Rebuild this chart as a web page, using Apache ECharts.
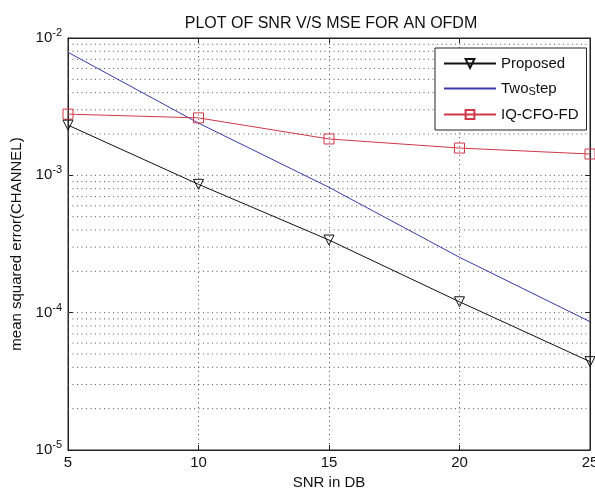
<!DOCTYPE html>
<html>
<head>
<meta charset="utf-8">
<script src="https://cdn.jsdelivr.net/npm/echarts@6/dist/echarts.min.js"></script>
<style>
	html, body { margin: 0; padding: 0; background: #fff; }
	#chart { width: 595px; height: 491px; }
</style>
</head>
<body>
<div id="chart"></div>
<script>
var snr = [5, 10, 15, 20, 25];
var proposed = [2.32e-3, 8.6e-4, 3.38e-4, 1.2e-4, 4.4e-5];
var twoStep = [7.87e-3, 2.4e-3, 8.18e-4, 2.53e-4, 8.6e-5];
var iqCfoFd = [2.79e-3, 2.62e-3, 1.84e-3, 1.58e-3, 1.43e-3];

// dotted grid lines at 1..9 of each decade (like matlab grid on)
var gridVals = [];
for (var e = -5; e < -2; e++) {
	for (var k = 1; k < 10; k++) {
		if (e === -5 && k === 1) continue;
		gridVals.push(k * Math.pow(10, e));
	}
}

function toXY (ys) {
	return ys.map(function (v, i) { return [snr[i], v]; });
}

var font = "Liberation Sans, Arial, sans-serif";
var dots = { type: [1, 3.5], color: "#555", width: 1 };
var cc = echarts.init(document.getElementById("chart"));

var gridSeries = gridVals.map(function (v) {
	return {
		name: "grid",
		type: "line",
		data: [[snr[0], v], [snr[snr.length - 1], v]],
		symbol: "none",
		silent: true,
		lineStyle: dots,
		z: 1
	};
});

var op = {
	backgroundColor: "#fff",
	animation: false,
	title: {
		text: "PLOT OF SNR V/S MSE FOR AN OFDM",
		left: 326,
		textAlign: "center",
		top: 11,
		textStyle: { fontFamily: font, fontSize: 16, fontWeight: "normal", color: "#111" }
	},
	grid: {
		left: 68, right: 5, top: 38, bottom: 41,
		outerBoundsMode: "none",
		containLabel: false,
		show: true, borderColor: "#222", borderWidth: 1
	},
	legend: {
		data: [
			{ name: "Proposed" },
			{ name: "Two_step", itemStyle: { opacity: 0 } },
			{ name: "IQ-CFO-FD" }
		],
		orient: "vertical",
		left: 435,
		top: 48,
		itemWidth: 52,
		itemHeight: 11,
		itemGap: 10,
		padding: [8, 8, 8, 8],
		backgroundColor: "#fff",
		borderColor: "#222",
		borderWidth: 1,
		borderRadius: 0,
		z: 10,
		formatter: function (n) {
			if (n === "Two_step") return "Two{sub|S}tep";
			return n;
		},
		textStyle: {
			fontFamily: font, fontSize: 15, color: "#111",
			rich: {
				sub: { fontFamily: font, fontSize: 11, color: "#111", verticalAlign: "bottom", padding: [6, 0, 0, 0] }
			}
		}
	},
	xAxis: [{
		type: "value",
		min: 5, max: 25, interval: 5,
		name: "SNR in DB",
		nameLocation: "middle",
		nameGap: 21,
		nameTextStyle: { fontFamily: font, fontSize: 15, color: "#111" },
		axisLine: { show: true, lineStyle: { color: "#222" } },
		axisTick: { inside: true, length: 5, lineStyle: { color: "#222" } },
		axisLabel: { fontFamily: font, fontSize: 15, color: "#111", margin: 5 },
		splitLine: { show: true, lineStyle: dots }
	}, {
		type: "value",
		position: "top",
		min: 5, max: 25, interval: 5,
		axisLine: { show: true, lineStyle: { color: "#222" } },
		axisTick: { inside: true, length: 5, lineStyle: { color: "#222" } },
		axisLabel: { show: false },
		splitLine: { show: false }
	}],
	yAxis: [{
		type: "log",
		logBase: 10,
		min: 1e-5, max: 1e-2,
		name: "mean squared error(CHANNEL)",
		nameLocation: "middle",
		nameGap: 37,
		nameTextStyle: { fontFamily: font, fontSize: 15, color: "#111" },
		axisLine: { show: true, lineStyle: { color: "#222" } },
		axisTick: { inside: true, length: 5, lineStyle: { color: "#222" } },
		axisLabel: {
			margin: 6,
			formatter: function (v) {
				return "10{sup|" + Math.round(Math.log10(v)) + "}";
			},
			rich: {
				sup: { fontFamily: font, fontSize: 11, color: "#111", verticalAlign: "top", padding: [0, 0, 10, 0] }
			},
			fontFamily: font, fontSize: 15, color: "#111"
		},
		splitLine: { show: false }
	}, {
		type: "log",
		logBase: 10,
		min: 1e-5, max: 1e-2,
		position: "right",
		axisLine: { show: true, lineStyle: { color: "#222" } },
		axisTick: { inside: true, length: 5, lineStyle: { color: "#222" } },
		axisLabel: { show: false },
		splitLine: { show: false }
	}],
	series: gridSeries.concat([{
		name: "Proposed",
		type: "line",
		data: toXY(proposed),
		symbol: "triangle",
		symbolRotate: 180,
		symbolSize: 10,
		lineStyle: { color: "#111", width: 1 },
		itemStyle: { color: "rgba(0,0,0,0)", borderColor: "#111", borderWidth: 1 },
		z: 5
	}, {
		name: "Two_step",
		type: "line",
		data: toXY(twoStep),
		symbol: "none",
		lineStyle: { color: "#3a3aa8", width: 1 },
		itemStyle: { color: "#3a3aa8" },
		z: 4
	}, {
		name: "IQ-CFO-FD",
		type: "line",
		data: toXY(iqCfoFd),
		symbol: "rect",
		symbolSize: 10,
		lineStyle: { color: "#d03848", width: 1 },
		itemStyle: { color: "rgba(0,0,0,0)", borderColor: "#d03848", borderWidth: 1 },
		z: 4
	}])
};

cc.setOption(op);
</script>
</body>
</html>
